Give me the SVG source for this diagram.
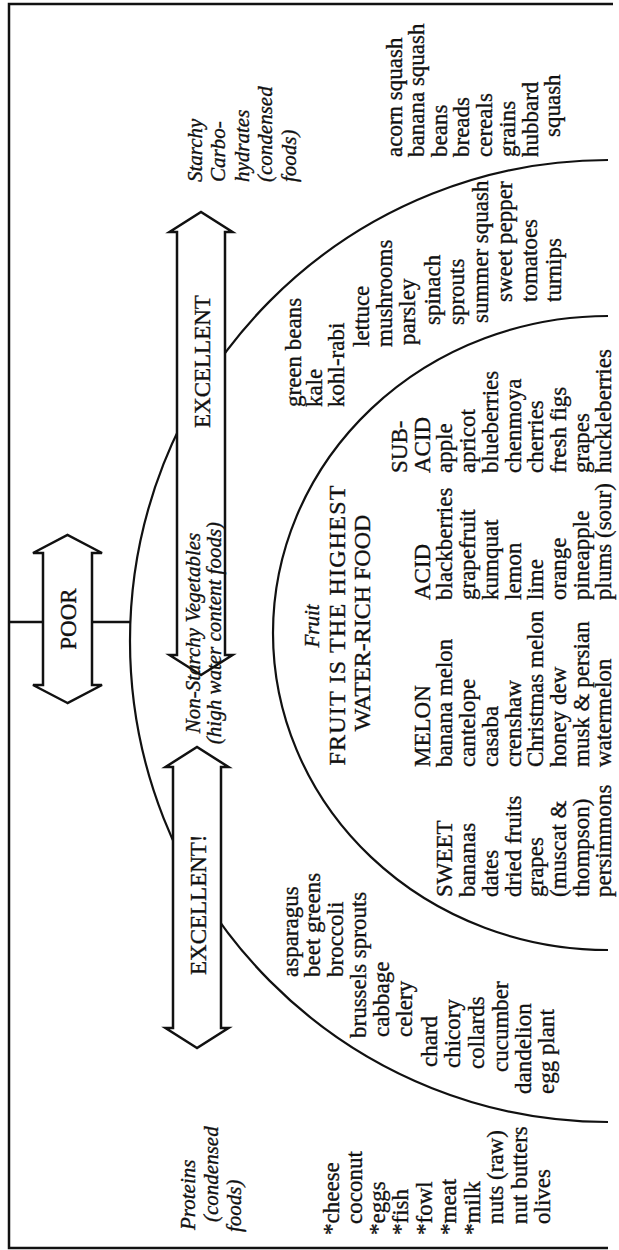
<svg xmlns="http://www.w3.org/2000/svg" width="619" height="1250" viewBox="0 0 619 1250">
<style>
text { font-family: "Liberation Serif", "Times New Roman", serif; fill: #111; stroke: #111; stroke-width: 0.35; }
.b { font-size: 23px; }
.h { font-size: 24px; }
.i { font-size: 21px; font-style: italic; }
.c { text-anchor: middle; }
.line { fill: none; stroke: #111; stroke-width: 2.5; }
.arc { fill: none; stroke: #111; stroke-width: 2.2; }
.arrow { fill: #fff; stroke: #111; stroke-width: 2.5; stroke-linejoin: miter; }
</style>
<rect width="619" height="1250" fill="#fff"/>
<g transform="translate(0,1250) rotate(-90)">
  <g id="frame">
    <path class="line" d="M 2,608 L 2,9 L 1246,9 L 1246,613"/>
    <path class="arc" d="M 128,608 A 481,478 0 0 1 1090,608"/>
    <path class="arc" d="M 300,608 A 317,335 0 0 1 934,608"/>
  </g>
  <g id="connectors">
    <path class="line" d="M 628,9 L 628,130"/>
  </g>
  <g id="arrow-poor">
    <polygon class="arrow" points="547,67.5 565,33 565,43 697,43 697,33 715,67.5 697,102 697,92 565,92 565,102"/>
    <text class="b c" x="631" y="76">POOR</text>
  </g>
  <g id="arrow-excellent-left">
    <polygon class="arrow" points="202,197 222,165.5 222,173 483,173 483,165.5 503,197 483,228.5 483,221 222,221 222,228.5"/>
    <text class="b" x="275" y="206">EXCELLENT!</text>
  </g>
  <g id="arrow-excellent-right">
    <polygon class="arrow" points="575,201 595,169.5 595,177 1018,177 1018,169.5 1038,201 1018,232.5 1018,225 595,225 595,232.5"/>
    <text class="b" x="822" y="210">EXCELLENT</text>
  </g>
  <g id="proteins">
    <text class="i" x="20" y="195">Proteins</text>
    <text class="i" x="28" y="218">(condensed</text>
    <text class="i" x="18" y="241">foods)</text>
    <text class="b" x="15" y="339">*cheese</text>
    <text class="b" x="26" y="362">coconut</text>
    <text class="b" x="15" y="385">*eggs</text>
    <text class="b" x="15" y="408">*fish</text>
    <text class="b" x="15" y="432">*fowl</text>
    <text class="b" x="15" y="456">*meat</text>
    <text class="b" x="15" y="480">*milk</text>
    <text class="b" x="26" y="503">nuts (raw)</text>
    <text class="b" x="26" y="527">nut butters</text>
    <text class="b" x="26" y="550">olives</text>
  </g>
  <g id="vegetables-left">
    <text class="b" x="273" y="298">asparagus</text>
    <text class="b" x="273" y="320">beet greens</text>
    <text class="b" x="273" y="343">broccoli</text>
    <text class="b" x="212" y="366">brussels sprouts</text>
    <text class="b" x="213" y="389">cabbage</text>
    <text class="b" x="213" y="412">celery</text>
    <text class="b" x="183" y="437">chard</text>
    <text class="b" x="182" y="460">chicory</text>
    <text class="b" x="181" y="484">collards</text>
    <text class="b" x="178" y="508">cucumber</text>
    <text class="b" x="156" y="531">dandelion</text>
    <text class="b" x="156" y="554">egg plant</text>
  </g>
  <g id="vegetables-label">
    <text class="i c" x="617" y="200">Non-Starchy Vegetables</text>
    <text class="i c" x="617" y="221">(high water content foods)</text>
  </g>
  <g id="vegetables-right">
    <text class="b" x="843" y="301">green beans</text>
    <text class="b" x="843" y="322">kale</text>
    <text class="b" x="843" y="344">kohl-rabi</text>
    <text class="b" x="903" y="369">lettuce</text>
    <text class="b" x="903" y="392">mushrooms</text>
    <text class="b" x="905" y="415">parsley</text>
    <text class="b" x="925" y="440">spinach</text>
    <text class="b" x="925" y="464">sprouts</text>
    <text class="b" x="927" y="488">summer squash</text>
    <text class="b" x="948" y="512">sweet pepper</text>
    <text class="b" x="948" y="537">tomatoes</text>
    <text class="b" x="948" y="561">turnips</text>
  </g>
  <g id="starchy">
    <text class="i" x="1068" y="202">Starchy</text>
    <text class="i" x="1068" y="225">Carbo-</text>
    <text class="i" x="1068" y="249">hydrates</text>
    <text class="i" x="1068" y="272">(condensed</text>
    <text class="i" x="1068" y="296">foods)</text>
    <text class="b" x="1093" y="402">acorn squash</text>
    <text class="b" x="1093" y="424">banana squash</text>
    <text class="b" x="1093" y="447">beans</text>
    <text class="b" x="1093" y="469">breads</text>
    <text class="b" x="1093" y="492">cereals</text>
    <text class="b" x="1093" y="515">grains</text>
    <text class="b" x="1093" y="538">hubbard</text>
    <text class="b" x="1113" y="560">squash</text>
  </g>
  <g id="fruit-header">
    <text class="i c" x="624" y="319">Fruit</text>
    <text class="h c" x="625" y="345" letter-spacing="1.2">FRUIT IS THE HIGHEST</text>
    <text class="h c" x="627" y="370">WATER-RICH FOOD</text>
  </g>
  <g id="fruit-sweet">
    <text class="b" x="353" y="452">SWEET</text>
    <text class="b" x="353" y="475">bananas</text>
    <text class="b" x="353" y="498">dates</text>
    <text class="b" x="353" y="521">dried fruits</text>
    <text class="b" x="353" y="543">grapes</text>
    <text class="b" x="353" y="566">(muscat &amp;</text>
    <text class="b" x="353" y="589">thompson)</text>
    <text class="b" x="353" y="611">persimmons</text>
  </g>
  <g id="fruit-melon">
    <text class="b" x="483" y="430">MELON</text>
    <text class="b" x="483" y="452">banana melon</text>
    <text class="b" x="483" y="475">cantelope</text>
    <text class="b" x="483" y="498">casaba</text>
    <text class="b" x="483" y="521">crenshaw</text>
    <text class="b" x="483" y="543">Christmas melon</text>
    <text class="b" x="483" y="566">honey dew</text>
    <text class="b" x="483" y="589">musk &amp; persian</text>
    <text class="b" x="483" y="611">watermelon</text>
  </g>
  <g id="fruit-acid">
    <text class="b" x="650" y="430">ACID</text>
    <text class="b" x="650" y="452">blackberries</text>
    <text class="b" x="650" y="475">grapefruit</text>
    <text class="b" x="650" y="498">kumquat</text>
    <text class="b" x="650" y="521">lemon</text>
    <text class="b" x="650" y="543">lime</text>
    <text class="b" x="650" y="566">orange</text>
    <text class="b" x="650" y="589">pineapple</text>
    <text class="b" x="650" y="611">plums (sour)</text>
  </g>
  <g id="fruit-subacid">
    <text class="b" x="777" y="407">SUB-</text>
    <text class="b" x="777" y="430">ACID</text>
    <text class="b" x="777" y="452">apple</text>
    <text class="b" x="777" y="475">apricot</text>
    <text class="b" x="777" y="498">blueberries</text>
    <text class="b" x="777" y="521">chenmoya</text>
    <text class="b" x="777" y="543">cherries</text>
    <text class="b" x="777" y="566">fresh figs</text>
    <text class="b" x="777" y="589">grapes</text>
    <text class="b" x="777" y="611">huckleberries</text>
  </g>
</g>
</svg>
